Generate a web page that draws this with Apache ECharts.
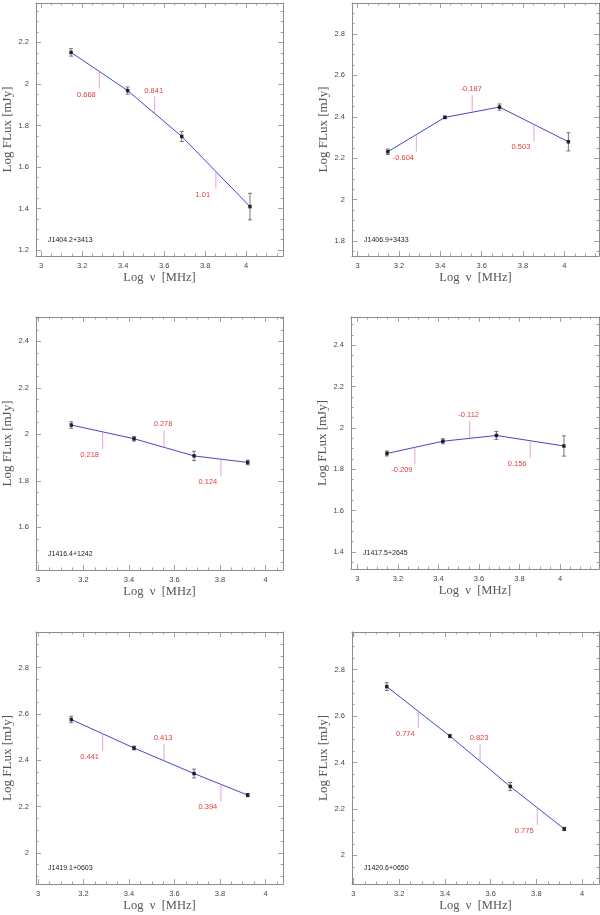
<!DOCTYPE html>
<html>
<head>
<meta charset="utf-8">
<script src="https://cdn.jsdelivr.net/npm/echarts@6/dist/echarts.min.js"></script>
<style>
  html, body { margin: 0; padding: 0; background: #fff; }
  #chart { width: 600px; height: 915px; }
</style>
</head>
<body>
<div id="chart"></div>
<script>
// log frequency (MHz) of the four bands
var freqA = [3.146, 3.422, 3.686, 4.019];
var freqB = [3.146, 3.422, 3.686, 3.922];

var names = ['J1404.2+3413', 'J1406.9+3433', 'J1416.4+1242', 'J1417.5+2645', 'J1419.1+0603', 'J1420.6+0650'];

// log flux (mJy) and errors
var flux1 = [2.152, 1.968, 1.747, 1.409];
var err1 = [0.018, 0.017, 0.024, 0.064];
var flux2 = [2.231, 2.397, 2.447, 2.279];
var err2 = [0.013, 0.006, 0.015, 0.044];
var flux3 = [2.040, 1.981, 1.907, 1.879];
var err3 = [0.014, 0.010, 0.020, 0.010];
var flux4 = [1.877, 1.936, 1.964, 1.913];
var err4 = [0.012, 0.012, 0.019, 0.049];
var flux5 = [2.576, 2.453, 2.343, 2.250];
var err5 = [0.014, 0.008, 0.019, 0.007];
var flux6 = [2.727, 2.514, 2.297, 2.114];
var err6 = [0.017, 0.007, 0.017, 0.007];

// spectral indices between neighbouring bands
var alpha1 = ['0.668', '0.841', '1.01'];
var alpha2 = ['-0.604', '-0.187', '0.503'];
var alpha3 = ['0.218', '0.278', '0.124'];
var alpha4 = ['-0.209', '-0.112', '0.156'];
var alpha5 = ['0.441', '0.413', '0.394'];
var alpha6 = ['0.774', '0.823', '0.775'];

// axis ranges
var xMin = [2.975, 2.973, 2.991, 2.969, 2.991, 2.994];
var xMax = [4.180, 4.167, 4.077, 4.192, 4.077, 4.074];
var yMin = [1.171, 1.727, 1.416, 1.318, 1.867, 1.877];
var yMax = [2.390, 2.950, 2.505, 2.537, 2.953, 2.962];

var panels = [
	{x: freqA, y: flux1, e: err1, a: alpha1},
	{x: freqA, y: flux2, e: err2, a: alpha2},
	{x: freqB, y: flux3, e: err3, a: alpha3},
	{x: freqA, y: flux4, e: err4, a: alpha4},
	{x: freqB, y: flux5, e: err5, a: alpha5},
	{x: freqB, y: flux6, e: err6, a: alpha6}
];

// layout
var gridLeft = [36, 352, 36, 351, 36, 352];
var gridTop = [3, 3, 317, 317, 632, 632];
var gridW = [247, 247, 247, 248, 247, 247];
var gridH = [253, 253, 253, 252, 252, 252];
var tickDir = [-1, 1, -1];

var axisColor = '#8c8c8c';
var sans = 'Liberation Sans, Arial, sans-serif';
var serif = 'Liberation Serif, Times New Roman, serif';

var fmt = function(v) {
	if (Math.abs(v * 5 - Math.round(v * 5)) > 1e-6) return '';
	return String(+v.toFixed(1));
};

var makeAxis = function(i, dim, pos, labels, min, max) {
	var ax = {
		type: 'value',
		gridIndex: i,
		position: pos,
		min: min,
		max: max,
		splitNumber: 5,
		axisLine: {show: true, onZero: false, lineStyle: {color: axisColor, width: 1}},
		axisTick: {show: true, inside: true, length: 5, lineStyle: {color: axisColor, width: 0.8}},
		minorTick: {show: true, splitNumber: 4, length: 2.5, lineStyle: {color: axisColor, width: 0.8}},
		splitLine: {show: false},
		minorSplitLine: {show: false},
		axisLabel: {
			show: labels,
			margin: dim === 'x' ? 6 : 7,
			fontSize: 7.5,
			color: '#444',
			fontFamily: sans,
			showMinLabel: false,
			showMaxLabel: false,
			formatter: fmt
		}
	};
	if (labels) {
		ax.name = dim === 'x' ? 'Log  ν  [MHz]' : 'Log FLux [mJy]';
		ax.nameLocation = 'middle';
		ax.nameGap = dim === 'x' ? 15 : 22;
		ax.nameTextStyle = {fontFamily: serif, fontSize: dim === 'x' ? 12.5 : 13, color: '#555'};
	}
	return ax;
};

var errItem = function(params, api) {
	var x = api.value(0);
	var a = api.coord([x, api.value(1)]);
	var b = api.coord([x, api.value(2)]);
	var st = {stroke: '#555', lineWidth: 0.8};
	return {
		type: 'group',
		children: [
			{type: 'line', shape: {x1: a[0], y1: a[1], x2: b[0], y2: b[1]}, style: st},
			{type: 'line', shape: {x1: a[0] - 2, y1: a[1], x2: a[0] + 2, y2: a[1]}, style: st},
			{type: 'line', shape: {x1: b[0] - 2, y1: b[1], x2: b[0] + 2, y2: b[1]}, style: st}
		]
	};
};

var alphaItem = function(labels) {
	return function(params, api) {
		var p = api.coord([api.value(0), api.value(1)]);
		var up = api.value(2) > 0;
		var len = 17;
		var y2 = up ? p[1] - len : p[1] + len;
		return {
			type: 'group',
			children: [
				{type: 'line', shape: {x1: p[0], y1: p[1], x2: p[0], y2: y2}, style: {stroke: '#d88ad8', lineWidth: 0.8}},
				{
					type: 'text',
					x: up ? p[0] - 1 : p[0] - 13,
					y: up ? y2 - 2 : y2 + 2,
					style: {
						text: labels[params.dataIndex],
						fill: '#e23c3c',
						fontSize: 7.5,
						fontFamily: sans,
						align: 'center',
						verticalAlign: up ? 'bottom' : 'top'
					}
				}
			]
		};
	};
};

var grids = [], xAxes = [], yAxes = [], series = [], titles = [];
panels.forEach(function(p, i) {
	grids.push({left: gridLeft[i], top: gridTop[i], width: gridW[i], height: gridH[i], outerBoundsMode: 'none'});
	xAxes.push(makeAxis(i, 'x', 'bottom', true, xMin[i], xMax[i]));
	xAxes.push(makeAxis(i, 'x', 'top', false, xMin[i], xMax[i]));
	yAxes.push(makeAxis(i, 'y', 'left', true, yMin[i], yMax[i]));
	yAxes.push(makeAxis(i, 'y', 'right', false, yMin[i], yMax[i]));

	var pts = p.x.map(function(x, k) { return [x, p.y[k]]; });
	var errs = p.x.map(function(x, k) { return [x, p.y[k] - p.e[k], p.y[k] + p.e[k]]; });
	var mids = [];
	for (var k = 0; k < p.x.length - 1; k++) {
		mids.push([(p.x[k] + p.x[k + 1]) / 2, (p.y[k] + p.y[k + 1]) / 2, tickDir[k]]);
	}

	series.push({
		type: 'line', xAxisIndex: 2 * i, yAxisIndex: 2 * i, data: pts,
		showSymbol: false, silent: true, z: 2,
		lineStyle: {color: '#4646c8', width: 1}
	});
	series.push({
		type: 'custom', xAxisIndex: 2 * i, yAxisIndex: 2 * i, data: errs,
		renderItem: errItem, silent: true, z: 3
	});
	series.push({
		type: 'scatter', xAxisIndex: 2 * i, yAxisIndex: 2 * i, data: pts,
		symbol: 'rect', symbolSize: 3.5, itemStyle: {color: '#000'}, silent: true, z: 4
	});
	series.push({
		type: 'custom', xAxisIndex: 2 * i, yAxisIndex: 2 * i, data: mids,
		renderItem: alphaItem(p.a), silent: true, z: 3
	});

	titles.push({
		text: names[i],
		left: gridLeft[i] + 12,
		top: gridTop[i] + gridH[i] - 19,
		padding: 0,
		textStyle: {fontSize: 7, fontWeight: 'normal', color: '#222', fontFamily: sans}
	});
});

var myChart = echarts.init(document.getElementById('chart'), null, {renderer: 'canvas'});
myChart.setOption({
	animation: false,
	backgroundColor: '#fff',
	title: titles,
	grid: grids,
	xAxis: xAxes,
	yAxis: yAxes,
	series: series
});
</script>
</body>
</html>
